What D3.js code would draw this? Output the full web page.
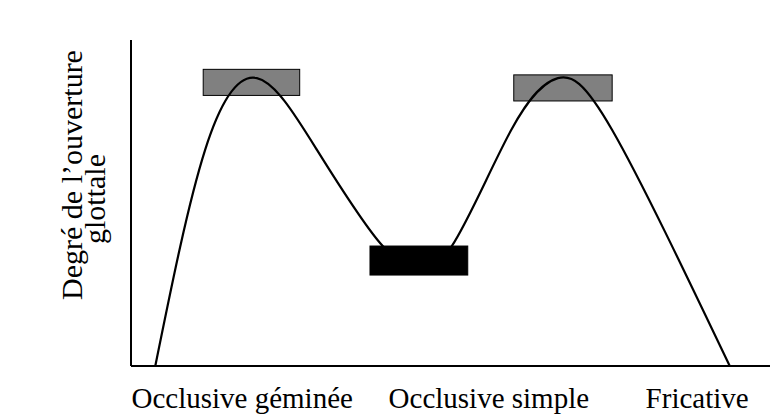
<!DOCTYPE html>
<html>
<head>
<meta charset="utf-8">
<script src="https://cdn.jsdelivr.net/npm/d3@7"></script>
<style>
  body { margin: 0; background: #fff; }
  text { font-family: "Liberation Serif", "Times New Roman", serif; fill: #000; }
</style>
</head>
<body>
<div id="chart"></div>
<script>
// data (x: time course, y: degree of glottal opening, both 0-100)
var curve_x = [3.8, 11.6, 19.7, 29.1, 39.4, 44.8, 50.2, 59.5, 66.8, 75.3, 93.7],
    curve_y = [0, 66.3, 88.3, 66.3, 36.8, 31.9, 36.8, 72.4, 88.3, 72.4, 0];

// boxes: x0, x1, y0, y1
var box_names = ['geminee', 'simple', 'fricative'],
    box_x0 = [11.3, 37.4, 59.9],
    box_x1 = [26.4, 52.7, 75.3],
    box_y0 = [83.0, 27.9, 81.3],
    box_y1 = [91.0, 36.8, 89.3],
    box_fill = ['#808080', '#000000', '#808080'];

var categories = ['Occlusive géminée', 'Occlusive simple', 'Fricative'],
    category_x = [17.4, 56.0, 88.6];

var y_label_lines = ['Degré de l’ouverture', 'glottale'];

// sizes
var width = 770, height = 417,
    margin = {top: 40, right: 0, bottom: 51, left: 131};

var x = d3.scaleLinear().domain([0, 100]).range([margin.left, width - margin.right]),
    y = d3.scaleLinear().domain([0, 100]).range([height - margin.bottom, margin.top]);

var svg = d3.select('#chart').append('svg')
    .attr('width', width)
    .attr('height', height);

// curve
var points = curve_x.map(function(d, i) { return [d, curve_y[i]]; });
var line = d3.line()
    .x(function(d) { return x(d[0]); })
    .y(function(d) { return y(d[1]); })
    .curve(d3.curveNatural);

svg.append('path')
    .datum(points)
    .attr('d', line)
    .attr('fill', 'none')
    .attr('stroke', '#000')
    .attr('stroke-width', 2.2);

// boxes
svg.selectAll('rect.box')
    .data(box_names)
  .enter().append('rect')
    .attr('class', 'box')
    .attr('x', function(d, i) { return x(box_x0[i]); })
    .attr('y', function(d, i) { return y(box_y1[i]); })
    .attr('width', function(d, i) { return x(box_x1[i]) - x(box_x0[i]); })
    .attr('height', function(d, i) { return y(box_y0[i]) - y(box_y1[i]); })
    .attr('fill', function(d, i) { return box_fill[i]; })
    .attr('stroke', '#000')
    .attr('stroke-width', 1);

// the curve stays visible through the grey boxes
var clip = svg.append('clipPath').attr('id', 'grey-clip');
clip.selectAll('rect')
    .data([0, 2])
  .enter().append('rect')
    .attr('x', function(i) { return x(box_x0[i]); })
    .attr('y', function(i) { return y(box_y1[i]); })
    .attr('width', function(i) { return x(box_x1[i]) - x(box_x0[i]); })
    .attr('height', function(i) { return y(box_y0[i]) - y(box_y1[i]); });

svg.append('path')
    .datum(points)
    .attr('d', line)
    .attr('fill', 'none')
    .attr('stroke', '#000')
    .attr('stroke-width', 2.2)
    .attr('clip-path', 'url(#grey-clip)');

// axes (plain lines, no ticks)
svg.append('line')
    .attr('x1', x(0)).attr('x2', x(0))
    .attr('y1', y(100)).attr('y2', y(0))
    .attr('stroke', '#000').attr('stroke-width', 2);
svg.append('line')
    .attr('x1', x(0)).attr('x2', x(100))
    .attr('y1', y(0)).attr('y2', y(0))
    .attr('stroke', '#000').attr('stroke-width', 2);

// category labels
svg.selectAll('text.cat')
    .data(categories)
  .enter().append('text')
    .attr('class', 'cat')
    .attr('x', function(d, i) { return x(category_x[i]); })
    .attr('y', 408)
    .attr('text-anchor', 'middle')
    .style('font-size', '29px')
    .text(function(d) { return d; });

// y label
var ylab = svg.append('text')
    .attr('transform', 'translate(82,175) rotate(-90)')
    .attr('text-anchor', 'middle')
    .style('font-size', '30px');
ylab.selectAll('tspan')
    .data(y_label_lines)
  .enter().append('tspan')
    .attr('x', function(d, i) { return i === 1 ? -24 : 0; })
    .attr('dy', function(d, i) { return i === 0 ? 0 : '0.77em'; })
    .text(function(d) { return d; });
</script>
</body>
</html>
